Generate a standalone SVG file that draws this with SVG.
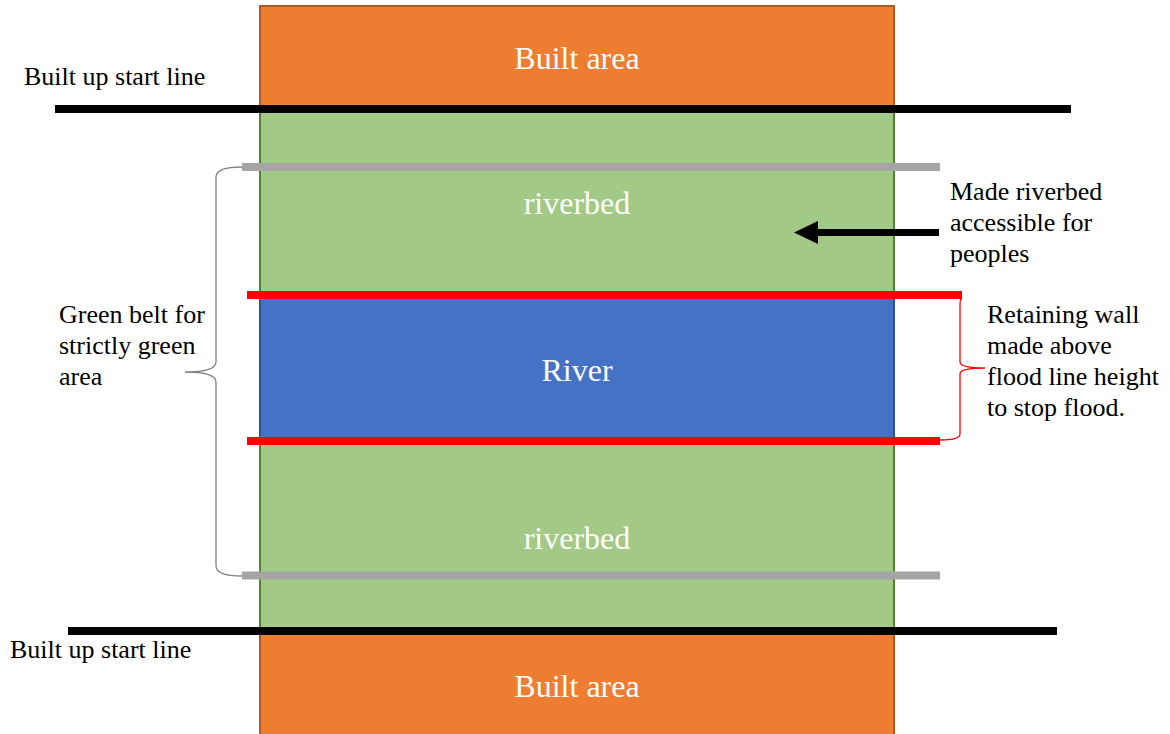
<svg xmlns="http://www.w3.org/2000/svg" width="1170" height="734" viewBox="0 0 1170 734">
<style>
text{font-family:'Liberation Serif','DejaVu Serif','Times New Roman',serif}
.lbl{font-size:26px;fill:#000}
.zone{font-size:32px;fill:#fff;text-anchor:middle}
.built{fill:#ED7D31;stroke:#AE5A21;stroke-width:2}
.green{fill:#A2C986;stroke:#548235;stroke-width:2}
.river{fill:#4472C4;stroke:#2F528F;stroke-width:2}
.black{stroke:#000;stroke-width:8}
.gray{stroke:#A5A5A5;stroke-width:8}
.red{stroke:#FF0000;stroke-width:8}
</style>
<rect width="1170" height="734" fill="#fff"/>
<g id="built-top"><rect class="built" x="260" y="6" width="634" height="104"/><text class="zone" x="577" y="69" font-family="Liberation Serif">Built area</text></g>
<g id="green-belt"><rect class="green" x="260" y="109" width="634" height="522"/></g>
<g id="riverbed-top"><text class="zone" x="577" y="214" font-family="Liberation Serif">riverbed</text></g>
<g id="river"><rect class="river" x="260" y="295" width="634" height="146"/><text class="zone" x="577" y="381" font-family="Liberation Serif">River</text></g>
<g id="riverbed-bottom"><text class="zone" x="577" y="549" font-family="Liberation Serif">riverbed</text></g>
<g id="built-bottom"><rect class="built" x="260" y="631" width="634" height="110"/><text class="zone" x="577" y="697" font-family="Liberation Serif">Built area</text></g>
<g id="lines">
<line class="black" x1="55" y1="109" x2="1071" y2="109"/>
<line class="black" x1="68" y1="631" x2="1057" y2="631"/>
<line class="gray" x1="242" y1="167" x2="940" y2="167"/>
<line class="gray" x1="242" y1="575.5" x2="940" y2="575.5"/>
<line class="red" x1="247" y1="295" x2="962" y2="295"/>
<line class="red" x1="247" y1="441" x2="940" y2="441"/>
</g>
<g id="connectors">
<path d="M242 167 Q216 167 216 177 L216 362 Q216 372 185 372 Q216 372 216 382 L216 566 Q216 576 242 576" fill="none" stroke="#808080" stroke-width="1.3"/>
<path d="M962 299 Q960 299 960 305 L960 362 Q960 368 985 368 Q960 368 960 374 L960 434 Q960 440 940 440" fill="none" stroke="#FF0000" stroke-width="1.3"/>
<line x1="939" y1="232.5" x2="815" y2="232.5" stroke="#000" stroke-width="7"/>
<polygon points="794,232.5 818,221 818,244" fill="#000"/>
</g>
<g id="labels">
<text class="lbl" x="24" y="85" font-family="Liberation Serif">Built up start line</text>
<text class="lbl" x="10" y="658" font-family="Liberation Serif">Built up start line</text>
<text class="lbl" font-family="Liberation Serif"><tspan x="950" y="200">Made riverbed</tspan><tspan x="950" y="231">accessible for</tspan><tspan x="950" y="262">peoples</tspan></text>
<text class="lbl" font-family="Liberation Serif"><tspan x="987" y="323">Retaining wall</tspan><tspan x="987" y="354">made above</tspan><tspan x="987" y="385">flood line height</tspan><tspan x="987" y="416">to stop flood.</tspan></text>
<text class="lbl" font-family="Liberation Serif"><tspan x="59" y="323">Green belt for</tspan><tspan x="59" y="354">strictly green</tspan><tspan x="59" y="385">area</tspan></text>
</g>
</svg>
